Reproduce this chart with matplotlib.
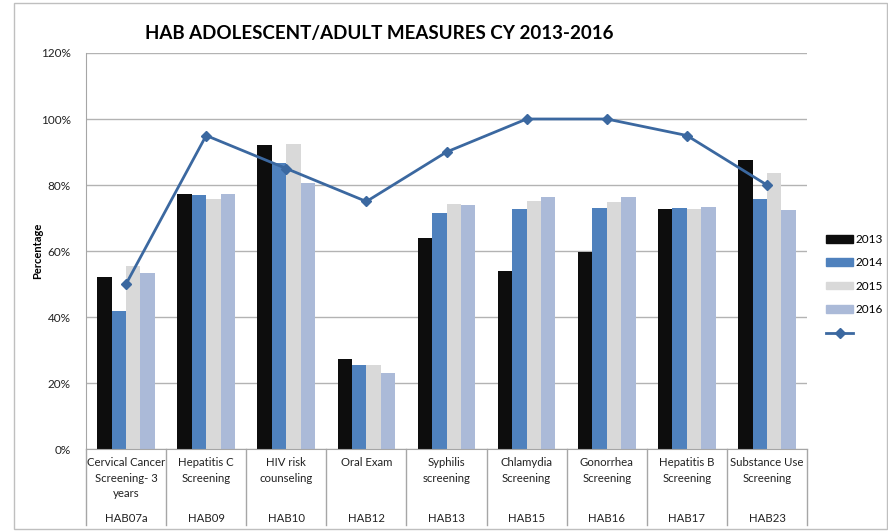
import matplotlib.pyplot as plt
import matplotlib.transforms as mtransforms
from matplotlib.patches import Patch, Rectangle
from matplotlib.lines import Line2D
import numpy as np

plt.rcParams['font.family'] = ['Lato', 'DejaVu Sans']

categories = ['Cervical Cancer\nScreening- 3\nyears', 'Hepatitis C\nScreening', 'HIV risk\ncounseling',
              'Oral Exam', 'Syphilis\nscreening', 'Chlamydia\nScreening', 'Gonorrhea\nScreening',
              'Hepatitis B\nScreening', 'Substance Use\nScreening']
codes = ['HAB07a', 'HAB09', 'HAB10', 'HAB12', 'HAB13', 'HAB15', 'HAB16', 'HAB17', 'HAB23']

years = ['2013', '2014', '2015', '2016']
v2013 = [52, 77.3, 92, 27.2, 64, 53.8, 59.6, 72.8, 87.5]
v2014 = [41.8, 76.9, 86.8, 25.5, 71.6, 72.6, 73.0, 73.0, 75.7]
v2015 = [55.5, 75.9, 92.3, 25.4, 74.1, 75.0, 74.9, 72.8, 83.6]
v2016 = [53.3, 77.3, 80.5, 23.1, 73.8, 76.3, 76.3, 73.3, 72.5]
goal = [50, 95, 85, 75, 90, 100, 100, 95, 80]

colors = ['#0d0d0d', '#4f81bd', '#d9d9d9', '#abbad8']
line_color = '#3b68a0'

fig = plt.figure(figsize=(8.88, 5.31), dpi=100)
fig.add_artist(Rectangle((14 / 888, 2 / 531), 873 / 888, 526 / 531, transform=fig.transFigure,
                         fill=False, edgecolor='#bfbfbf', linewidth=1))
ax = fig.add_axes([86 / 888, 82 / 531, 721 / 888, 396 / 531])

x = np.arange(len(categories))
w = 0.18
for i, vals in enumerate([v2013, v2014, v2015, v2016]):
    ax.bar(x + (i - 1.5) * w, vals, w, color=colors[i], zorder=2)
ax.plot(x, goal, color=line_color, linewidth=2, marker='D', markersize=5, zorder=3)

ax.set_xlim(-0.5, len(categories) - 0.5)
ax.set_ylim(0, 120)
ax.set_yticks(np.arange(0, 121, 20))
ax.set_yticklabels(['%d%%' % v for v in range(0, 121, 20)], fontsize=8.5, color='#222222')
ax.tick_params(axis='y', length=0, pad=11)
ax.set_xticks([])
ax.grid(axis='y', color='#b3b3b3', linewidth=1, zorder=0)
for s in ['top', 'right']:
    ax.spines[s].set_visible(False)
ax.spines['left'].set_color('#a6a6a6')
ax.spines['bottom'].set_color('#a6a6a6')

trans = mtransforms.blended_transform_factory(ax.transData, ax.transAxes)
for b in np.arange(-0.5, len(categories), 1.0):
    ax.add_line(Line2D([b, b], [0, -76 / 396], transform=trans, color='#a6a6a6',
                       linewidth=1, clip_on=False))
for xi, (name, code) in enumerate(zip(categories, codes)):
    ax.text(xi, -8 / 396, name, transform=trans, ha='center', va='top', fontsize=8.2,
            linespacing=1.5, color='#222222')
    ax.text(xi, -69 / 396, code, transform=trans, ha='center', va='center', fontsize=8.2,
            color='#222222')

ax.set_ylabel('Percentage', fontsize=8, fontweight='bold')
ax.yaxis.set_label_coords(-43 / 721, 0.5)
fig.text(379 / 888, 1 - 33 / 531, 'HAB ADOLESCENT/ADULT MEASURES CY 2013-2016',
         ha='center', va='center', fontsize=13.5, fontweight='bold')

handles = [Patch(color=c) for c in colors]
handles.append(Line2D([], [], color=line_color, linewidth=2, marker='D', markersize=5))
fig.legend(handles, years + [''], loc='upper left', bbox_to_anchor=(826 / 888, 1 - 234 / 531),
           frameon=False, fontsize=8.5, handlelength=2.3, handleheight=0.6,
           labelspacing=1.05, handletextpad=0.2, borderaxespad=0, borderpad=0)

plt.savefig('out.png', dpi=100)
